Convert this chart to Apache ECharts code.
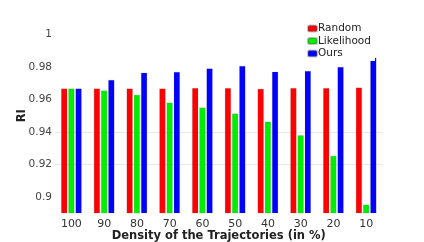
<!DOCTYPE html>
<html>
<head>
<meta charset="utf-8">
<script src="https://cdn.jsdelivr.net/npm/echarts@6/dist/echarts.min.js"></script>
<style>html,body{margin:0;padding:0;background:#fff;}#c{width:424px;height:242px;}</style>
</head>
<body>
<div id="c"></div>
<script>
var categories = ['100','90','80','70','60','50','40','30','20','10'];
var randomVals = [0.9667,0.9667,0.9667,0.9667,0.9670,0.9670,0.9665,0.9670,0.9670,0.9673];
var likelihoodVals = [0.9667,0.9655,0.9628,0.9580,0.9550,0.9513,0.9463,0.9379,0.9252,0.8951];
var oursVals = [0.9667,0.9720,0.9765,0.9769,0.9790,0.9806,0.9770,0.9775,0.9800,0.9857];
var yTicks = [0.89,0.90,0.91,0.92,0.93,0.94,0.95,0.96,0.97,0.98,0.99,1.00,1.01];
var gridValues = [0.92, 0.94];

var font = 'DejaVu Sans';
var splitColors = yTicks.map(function(t){
  return gridValues.some(function(g){return Math.abs(g-t)<1e-6;}) ? '#e8e8e8' : 'rgba(0,0,0,0)';
});
var chart = echarts.init(document.getElementById('c'), null, {renderer:'canvas'});
function bar(name, data, color){
  return {name:name, type:'bar', data:data, barWidth:6, barGap:'20%', z:3,
    itemStyle:{color:color, borderColor:'rgba(80,80,80,0.35)', borderWidth:0.4}};
}
chart.setOption({
  animation:false,
  grid:{left:55, right:41.5, top:18.4, bottom:29, outerBoundsMode:'none', containLabel:false},
  legend:{orient:'vertical', left:306, top:21, itemWidth:9, itemHeight:6, itemGap:1.5,
    backgroundColor:'#fff', padding:[2,4,2,1],
    textStyle:{fontFamily:font, fontSize:10.5, color:'#222', padding:[0,0,0,-4]},
    data:['Random','Likelihood','Ours']},
  xAxis:{type:'category', data:categories,
    axisLine:{show:false}, axisTick:{show:false},
    axisLabel:{fontFamily:font, fontSize:11, color:'#333', margin:6},
    name:'Density of the Trajectories (in %)', nameLocation:'middle', nameGap:17, nameMoveOverlap:false,
    nameTextStyle:{fontFamily:font, fontSize:11.5, fontWeight:'bold', color:'#222'}},
  yAxis:{type:'value', min:yTicks[0], max:yTicks[yTicks.length-1], interval:0.01,
    axisLine:{show:false}, axisTick:{show:false},
    splitLine:{show:true, showMinLine:true, showMaxLine:true, lineStyle:{color:splitColors, width:1}},
    axisLabel:{fontFamily:font, fontSize:10.5, color:'#444', margin:3,
      formatter:function(v){var r=Math.round(v*100); if(r%2!==0||r<90||r>100) return ''; return String(parseFloat((r/100).toFixed(2)));}},
    name:'RI', nameLocation:'middle', nameGap:27, nameMoveOverlap:false,
    nameTextStyle:{fontFamily:font, fontSize:11.5, fontWeight:'bold', color:'#222'}},
  series:[
    bar('Random', randomVals, '#ff0000'),
    bar('Likelihood', likelihoodVals, '#00ee00'),
    bar('Ours', oursVals, '#0000ff')
  ]
});
</script>
</body>
</html>
